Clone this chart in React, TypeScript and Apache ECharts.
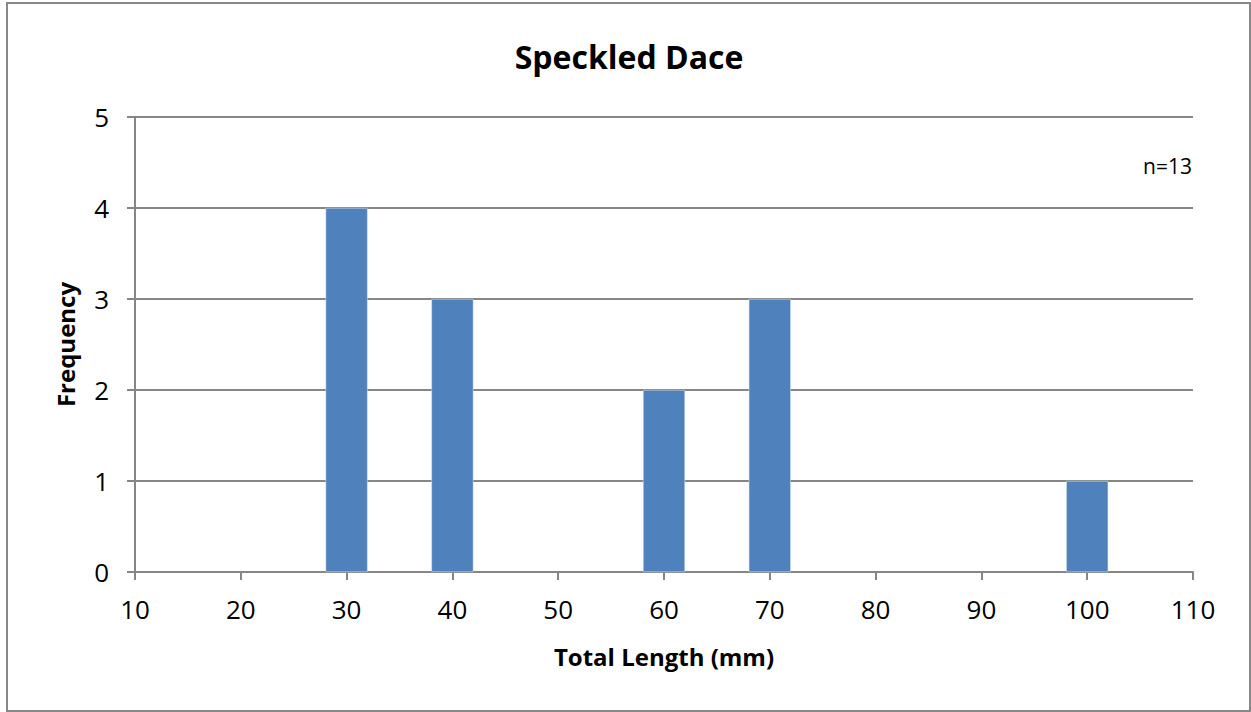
import React, { useEffect, useRef } from "react";
import * as echarts from "echarts";

const lengths = [30, 40, 60, 70, 100];
const frequencies = [4, 3, 2, 3, 1];
const chartTitle = "Speckled Dace";
const xTitle = "Total Length (mm)";
const yTitle = "Frequency";
const note = "n=13";

export default function App() {
  const ref = useRef<HTMLDivElement>(null);
  useEffect(() => {
    if (!ref.current) return;
    const chart = echarts.init(ref.current, null, { renderer: "svg" });
    const font = "'Open Sans', 'Noto Sans', sans-serif";
    const gray = "#868686";
    chart.setOption({
      animation: false,
      backgroundColor: "#ffffff",
      title: {
        text: chartTitle,
        left: 624,
        textAlign: "center",
        top: 35,
        textStyle: { fontFamily: font, fontSize: 32, fontWeight: "bold", color: "#000" },
      },
      grid: { left: 135, right: 58, top: 117, bottom: 140 },
      xAxis: {
        type: "value",
        min: 10,
        max: 110,
        interval: 10,
        name: xTitle,
        nameLocation: "middle",
        nameGap: 72,
        nameTextStyle: { fontFamily: font, fontSize: 24, fontWeight: "bold", color: "#000" },
        axisLine: { show: true, lineStyle: { color: gray, width: 2 } },
        axisTick: { show: true, length: 8, lineStyle: { color: gray, width: 2 } },
        axisLabel: { fontFamily: font, fontSize: 26, color: "#000", margin: 24 },
        splitLine: { show: false },
      },
      yAxis: {
        type: "value",
        min: 0,
        max: 5,
        interval: 1,
        name: yTitle,
        nameLocation: "middle",
        nameGap: 58,
        nameTextStyle: { fontFamily: font, fontSize: 24, fontWeight: "bold", color: "#000" },
        axisLine: { show: true, lineStyle: { color: gray, width: 2 } },
        axisTick: { show: true, length: 8, lineStyle: { color: gray, width: 2 } },
        axisLabel: { fontFamily: font, fontSize: 26, color: "#000", margin: 26 },
        splitLine: { show: true, lineStyle: { color: gray, width: 2 } },
      },
      series: [
        {
          type: "bar",
          data: lengths.map((l, i) => [l, frequencies[i]]),
          barWidth: 42,
          itemStyle: { color: "#4F81BD", borderColor: "#dfe8f3", borderWidth: 0.5 },
        },
      ],
      graphic: [
        {
          type: "rect",
          shape: { x: 7, y: 3, width: 1243, height: 708 },
          style: { fill: "none", stroke: "#888888", lineWidth: 2 },
          silent: true,
        },
        {
          type: "text",
          x: 1192,
          y: 166,
          style: {
            text: note,
            fontFamily: font,
            fontSize: 21,
            fill: "#000",
            align: "right",
            verticalAlign: "middle",
          },
        },
      ],
    });
    return () => chart.dispose();
  }, []);
  return (
    <div
      ref={ref}
      style={{ position: "absolute", left: 0, top: 0, width: 1251, height: 712 }}
    />
  );
}
